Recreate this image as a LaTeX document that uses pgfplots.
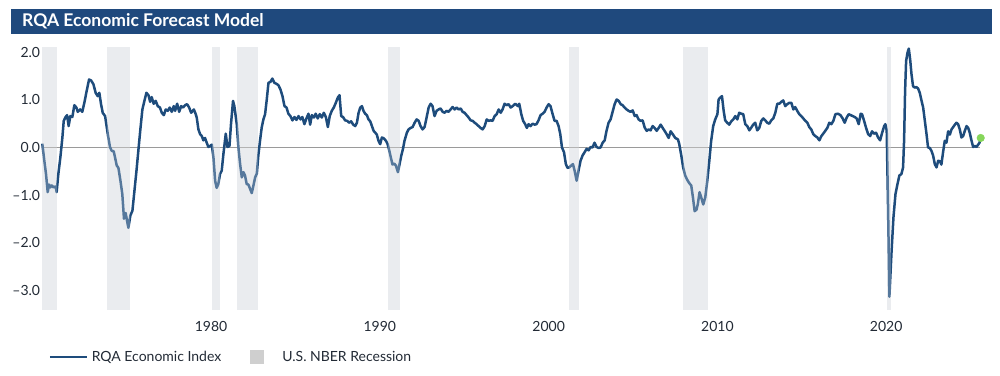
\documentclass[border=0pt]{standalone}
\usepackage{fontspec}
\setmainfont{Lato}
\usepackage{pgfplots}
\usepackage{pgfplotstable}
\pgfplotsset{compat=1.18}
\definecolor{rqablue}{HTML}{1E4C7C}
\definecolor{titleblue}{HTML}{1F497D}
\definecolor{recess}{HTML}{E3E6EA}
\definecolor{zeroline}{HTML}{9A9A9A}
\definecolor{dotgreen}{HTML}{86D65A}
\definecolor{legendgray}{HTML}{CFCFCF}
\definecolor{txt}{HTML}{222A35}

\pgfplotstableread{
x y
1970.00 0.08
1970.12 -0.28
1970.22 -0.56
1970.32 -0.94
1970.40 -0.78
1970.48 -0.84
1970.56 -0.80
1970.67 -0.84
1970.79 -0.82
1970.85 -0.94
1970.95 -0.56
1971.07 -0.21
1971.19 0.21
1971.27 0.56
1971.38 0.64
1971.47 0.68
1971.56 0.45
1971.66 0.66
1971.78 0.64
1971.90 0.89
1972.02 0.84
1972.10 0.75
1972.24 0.80
1972.37 0.75
1972.49 0.94
1972.63 1.19
1972.77 1.43
1972.89 1.41
1973.03 1.33
1973.16 1.15
1973.28 1.08
1973.38 1.15
1973.48 0.91
1973.58 0.73
1973.72 0.66
1973.88 0.28
1974.01 0.01
1974.11 -0.07
1974.23 -0.08
1974.31 -0.21
1974.41 -0.38
1974.51 -0.43
1974.63 -0.70
1974.74 -0.98
1974.84 -1.50
1974.94 -1.38
1975.02 -1.54
1975.10 -1.69
1975.22 -1.43
1975.34 -1.33
1975.46 -0.91
1975.58 -0.49
1975.69 -0.07
1975.81 0.38
1975.93 0.80
1976.05 0.98
1976.17 1.15
1976.29 1.10
1976.39 0.96
1976.48 1.06
1976.60 0.92
1976.72 0.98
1976.84 0.87
1976.97 0.84
1977.08 0.73
1977.20 0.68
1977.31 0.80
1977.43 0.77
1977.55 0.84
1977.67 0.75
1977.79 0.87
1977.87 0.77
1977.99 0.92
1978.11 0.75
1978.23 0.87
1978.34 0.84
1978.46 0.89
1978.58 0.91
1978.70 0.84
1978.82 0.73
1978.98 0.80
1979.09 0.70
1979.15 0.63
1979.25 0.38
1979.35 0.28
1979.45 0.24
1979.54 0.15
1979.64 0.20
1979.74 0.10
1979.84 0.01
1979.94 0.03
1980.04 0.06
1980.14 -0.21
1980.24 -0.70
1980.33 -0.85
1980.43 -0.77
1980.53 -0.56
1980.63 -0.49
1980.73 -0.14
1980.87 0.29
1980.97 0.01
1981.09 0.03
1981.18 0.49
1981.30 0.98
1981.38 0.87
1981.52 0.49
1981.62 0.00
1981.72 -0.35
1981.82 -0.63
1981.92 -0.52
1982.01 -0.59
1982.11 -0.77
1982.21 -0.78
1982.31 -0.87
1982.41 -0.96
1982.51 -0.80
1982.61 -0.63
1982.71 -0.55
1982.80 -0.17
1982.90 0.14
1983.00 0.42
1983.10 0.59
1983.20 0.70
1983.30 1.01
1983.40 1.36
1983.52 1.38
1983.63 1.45
1983.75 1.36
1983.87 1.34
1983.99 1.31
1984.11 1.22
1984.23 1.08
1984.35 0.87
1984.47 0.84
1984.58 0.71
1984.70 0.66
1984.82 0.57
1984.94 0.64
1985.06 0.58
1985.18 0.66
1985.30 0.59
1985.41 0.64
1985.53 0.49
1985.65 0.61
1985.77 0.71
1985.87 0.48
1985.97 0.68
1986.09 0.63
1986.20 0.71
1986.32 0.61
1986.44 0.70
1986.56 0.63
1986.68 0.73
1986.80 0.64
1986.92 0.43
1987.03 0.66
1987.15 0.77
1987.27 0.84
1987.39 0.94
1987.51 1.05
1987.61 1.10
1987.71 0.66
1987.82 0.64
1987.94 0.57
1988.06 0.56
1988.18 0.52
1988.30 0.55
1988.42 0.48
1988.54 0.45
1988.64 0.52
1988.74 0.73
1988.84 0.84
1988.94 0.87
1989.03 0.77
1989.13 0.71
1989.23 0.68
1989.33 0.59
1989.43 0.55
1989.53 0.45
1989.63 0.35
1989.73 0.31
1989.82 0.27
1989.92 0.14
1990.02 0.07
1990.12 0.21
1990.24 0.19
1990.36 0.14
1990.46 0.07
1990.56 -0.07
1990.65 -0.21
1990.75 -0.36
1990.85 -0.34
1990.95 -0.38
1991.07 -0.52
1991.17 -0.35
1991.27 -0.17
1991.37 -0.03
1991.46 0.14
1991.60 0.31
1991.70 0.38
1991.82 0.41
1991.94 0.43
1992.06 0.52
1992.18 0.59
1992.30 0.56
1992.41 0.45
1992.53 0.38
1992.65 0.43
1992.77 0.63
1992.89 0.84
1993.01 0.92
1993.12 0.87
1993.24 0.66
1993.36 0.77
1993.48 0.80
1993.60 0.82
1993.72 0.75
1993.84 0.73
1993.95 0.77
1994.07 0.75
1994.19 0.80
1994.31 0.85
1994.43 0.80
1994.55 0.84
1994.67 0.80
1994.79 0.82
1994.90 0.75
1995.02 0.73
1995.14 0.68
1995.26 0.63
1995.38 0.57
1995.50 0.56
1995.62 0.52
1995.73 0.49
1995.85 0.45
1995.97 0.41
1996.09 0.38
1996.21 0.45
1996.33 0.59
1996.45 0.56
1996.56 0.57
1996.68 0.56
1996.80 0.66
1996.92 0.70
1997.04 0.80
1997.16 0.73
1997.27 0.80
1997.39 0.92
1997.51 0.89
1997.63 0.91
1997.75 0.84
1997.87 0.87
1998.02 0.92
1998.18 0.87
1998.26 0.92
1998.38 0.70
1998.49 0.56
1998.61 0.49
1998.71 0.41
1998.81 0.49
1998.93 0.45
1999.05 0.50
1999.17 0.48
1999.28 0.49
1999.40 0.57
1999.52 0.68
1999.64 0.71
1999.76 0.75
1999.88 0.84
2000.00 0.91
2000.11 0.87
2000.23 0.71
2000.35 0.56
2000.47 0.56
2000.59 0.45
2000.69 0.28
2000.79 0.00
2000.91 -0.10
2001.02 -0.35
2001.12 -0.43
2001.22 -0.42
2001.34 -0.38
2001.44 -0.35
2001.54 -0.49
2001.66 -0.70
2001.77 -0.49
2001.89 -0.28
2002.01 -0.17
2002.13 -0.10
2002.25 -0.03
2002.37 -0.06
2002.49 0.01
2002.60 0.00
2002.72 0.10
2002.84 0.01
2002.96 -0.01
2003.08 0.00
2003.20 0.10
2003.32 0.15
2003.43 0.35
2003.55 0.52
2003.67 0.59
2003.79 0.75
2003.91 0.91
2004.03 1.01
2004.15 0.98
2004.27 0.91
2004.38 0.89
2004.50 0.84
2004.62 0.80
2004.74 0.77
2004.86 0.75
2004.98 0.78
2005.10 0.66
2005.21 0.68
2005.33 0.59
2005.45 0.56
2005.57 0.57
2005.69 0.42
2005.81 0.35
2005.93 0.38
2006.04 0.36
2006.16 0.45
2006.28 0.41
2006.40 0.35
2006.52 0.41
2006.64 0.48
2006.76 0.41
2006.87 0.35
2006.99 0.28
2007.11 0.20
2007.23 0.34
2007.35 0.28
2007.50 0.20
2007.66 0.17
2007.74 0.07
2007.86 -0.17
2007.97 -0.42
2008.09 -0.59
2008.21 -0.68
2008.33 -0.75
2008.45 -0.80
2008.55 -1.05
2008.65 -1.34
2008.76 -1.31
2008.84 -1.19
2008.94 -0.94
2009.04 -1.05
2009.16 -1.20
2009.28 -1.05
2009.40 -0.70
2009.52 -0.28
2009.63 0.14
2009.75 0.45
2009.87 0.59
2010.00 0.70
2010.07 1.01
2010.17 1.05
2010.27 1.08
2010.37 0.77
2010.46 0.57
2010.58 0.52
2010.70 0.48
2010.82 0.55
2010.94 0.59
2011.06 0.66
2011.18 0.59
2011.29 0.73
2011.41 0.71
2011.53 0.70
2011.65 0.49
2011.77 0.45
2011.89 0.36
2012.01 0.42
2012.12 0.48
2012.24 0.52
2012.36 0.36
2012.48 0.41
2012.60 0.56
2012.72 0.61
2012.84 0.57
2012.95 0.52
2013.07 0.50
2013.19 0.57
2013.31 0.61
2013.43 0.73
2013.55 0.92
2013.67 0.92
2013.78 0.96
2013.90 0.99
2014.02 0.87
2014.14 0.91
2014.26 0.94
2014.38 0.94
2014.50 0.80
2014.61 0.85
2014.73 0.77
2014.85 0.70
2014.97 0.66
2015.09 0.61
2015.21 0.56
2015.33 0.52
2015.44 0.43
2015.56 0.38
2015.68 0.28
2015.80 0.24
2015.92 0.21
2016.04 0.15
2016.16 0.24
2016.27 0.29
2016.39 0.35
2016.51 0.41
2016.63 0.52
2016.75 0.49
2016.87 0.56
2016.99 0.70
2017.15 0.71
2017.29 0.68
2017.42 0.61
2017.54 0.52
2017.66 0.63
2017.78 0.70
2017.90 0.68
2018.02 0.66
2018.14 0.64
2018.25 0.61
2018.37 0.49
2018.49 0.71
2018.57 0.70
2018.69 0.56
2018.81 0.41
2018.93 0.28
2019.05 0.24
2019.16 0.34
2019.28 0.29
2019.40 0.31
2019.52 0.21
2019.64 0.15
2019.76 0.31
2019.88 0.45
2019.95 0.49
2020.03 0.36
2020.11 -1.26
2020.19 -3.14
2020.31 -2.24
2020.43 -1.47
2020.55 -0.98
2020.67 -0.77
2020.78 -0.59
2020.90 -0.56
2021.00 -0.42
2021.06 0.14
2021.12 1.19
2021.18 1.82
2021.26 1.99
2021.34 2.08
2021.42 1.85
2021.50 1.54
2021.59 1.29
2021.69 1.26
2021.79 1.27
2021.89 1.24
2021.99 1.15
2022.09 0.99
2022.19 0.84
2022.29 0.56
2022.39 0.28
2022.48 0.00
2022.58 -0.01
2022.68 -0.07
2022.78 -0.17
2022.88 -0.35
2022.98 -0.42
2023.08 -0.28
2023.18 -0.29
2023.27 -0.36
2023.37 -0.10
2023.47 0.14
2023.57 0.10
2023.67 0.34
2023.77 0.27
2023.87 0.38
2023.97 0.43
2024.07 0.48
2024.16 0.52
2024.26 0.49
2024.36 0.38
2024.46 0.21
2024.56 0.24
2024.66 0.35
2024.76 0.45
2024.86 0.41
2024.95 0.31
2025.05 0.15
2025.15 0.01
2025.25 0.03
2025.35 0.01
2025.45 0.06
2025.53 0.10
2025.60 0.20
}\rqadata

\newcommand{\recbar}[3]{\addplot[#3, forget plot] coordinates {(#1,-3.42) (#2,-3.42) (#2,2.12) (#1,2.12)} --cycle;}
\newcommand{\allrec}[1]{%
\recbar{1970.00}{1970.87}{#1}
\recbar{1973.83}{1975.20}{#1}
\recbar{1980.06}{1980.53}{#1}
\recbar{1981.54}{1982.78}{#1}
\recbar{1990.51}{1991.20}{#1}
\recbar{2001.22}{2001.81}{#1}
\recbar{2007.97}{2009.46}{#1}
\recbar{2020.07}{2020.26}{#1}
}

\begin{document}
\begin{tikzpicture}
\path[use as bounding box] (0pt,0pt) rectangle (1000pt,375pt);
\fill[titleblue] (11pt,341pt) rectangle (992pt,366pt);
\node[anchor=west, text=white, inner sep=0pt, font=\bfseries\fontsize{17.5}{20}\selectfont] at (22pt,353.5pt) {RQA Economic Forecast Model};
\begin{axis}[
  at={(42.3pt,65pt)}, anchor=south west,
  scale only axis, width=938.4pt, height=263.3pt,
  xmin=1970, xmax=2025.6, ymin=-3.42, ymax=2.12,
  clip=false,
  axis line style={draw=none},
  major tick length=0pt,
  xtick={1980,1990,2000,2010,2020},
  xticklabels={1980,1990,2000,2010,2020},
  ytick={-3,-2,-1,0,1,2},
  yticklabels={\textendash3.0,\textendash2.0,\textendash1.0,0.0,1.0,2.0},
  tick label style={font=\fontsize{14}{16}\selectfont, text=txt},
  y tick label style={anchor=east, inner sep=1pt, xshift=-1pt},
  x tick label style={anchor=north, inner sep=0pt, yshift=-11pt},
  legend style={at={(0,0)}, anchor=west, yshift=-47pt, xshift=3pt,
    draw=none, fill=none, legend columns=2,
    font=\fontsize{14}{16}\selectfont, text=txt,
    /tikz/every even column/.append style={column sep=27pt}},
  legend cell align=left,
]
\allrec{draw=none, fill=recess}
\addplot[forget plot, color=zeroline, line width=1.8pt] coordinates {(1970,0) (2025.55,0)};
\addplot[color=rqablue, line width=2.5pt, line join=round,
  legend image code/.code={\fill[white, draw=none] (37pt,-1pt) rectangle (40pt,1pt); \draw[color=rqablue, line width=2.5pt] (0pt,0pt) -- (37pt,0pt);}]
  table[x=x, y=y] {\rqadata};
\addlegendentry{RQA Economic Index}
\addlegendimage{legend image code/.code={\fill[white, draw=none] (14pt,-1pt) rectangle (30pt,1pt); \fill[legendgray, draw=none] (0pt,-7pt) rectangle (14pt,7pt);}}
\addlegendentry{U.S. NBER Recession}
\allrec{draw=none, fill=white, fill opacity=0.25}
\addplot[forget plot, only marks, mark=*, mark size=3.8pt, color=dotgreen] coordinates {(2025.60,0.20)};
\end{axis}
\end{tikzpicture}
\end{document}
